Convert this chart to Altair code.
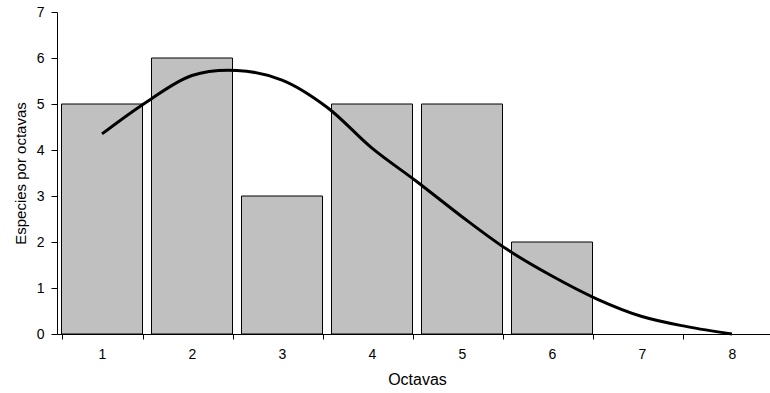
import altair as alt
import pandas as pd

categories = ["1", "2", "3", "4", "5", "6", "7", "8"]
species = [5, 6, 3, 5, 5, 2, 0, 0]

curve_x = [1, 1.5, 2, 2.5, 3, 3.5, 4, 4.5, 5, 5.5, 6, 6.5, 7, 7.5, 8]
curve_y = [4.35, 5.05, 5.62, 5.73, 5.52, 4.93, 4.04, 3.31, 2.55, 1.84, 1.26, 0.76, 0.38, 0.16, 0.0]

bars_df = pd.DataFrame({"octava": categories, "especies": species})
curve_df = pd.DataFrame({"x": curve_x, "especies": curve_y})

FONT = "Liberation Sans"
yscale = alt.Scale(domain=[0, 7], nice=False)
yaxis = alt.Axis(title="Especies por octavas", values=list(range(8)), grid=False, tickSize=6,
                 labelPadding=7, titlePadding=8, domainColor="black", tickColor="black",
                 labelColor="black", titleColor="black", labelFont=FONT, titleFont=FONT,
                 labelFontSize=14, titleFontSize=15, titleFontWeight="normal")

bars = alt.Chart(bars_df).transform_filter("datum.especies > 0").mark_bar(
    fill="#C0C0C0", stroke="black", strokeWidth=1
).encode(
    x=alt.X("octava:O", sort=categories,
            scale=alt.Scale(domain=categories, range=[0, 720], paddingInner=0.1, paddingOuter=0.05),
            axis=alt.Axis(title="Octavas", labelAngle=0, tickBand="extent", tickSize=5,
                          labelPadding=8, titlePadding=10, domainColor="black", tickColor="black",
                          labelColor="black", titleColor="black", labelFont=FONT, titleFont=FONT,
                          labelFontSize=14, titleFontSize=16, titleFontWeight="normal")),
    y=alt.Y("especies:Q", scale=yscale, axis=yaxis),
)

line = alt.Chart(curve_df).mark_line(color="black", strokeWidth=3, interpolate="catmull-rom").encode(
    x=alt.X("x:Q", scale=alt.Scale(domain=[0.5, 8.5], range=[0, 720], nice=False, zero=False), axis=None),
    y=alt.Y("especies:Q", scale=yscale, axis=yaxis),
)

chart = alt.layer(bars, line).resolve_scale(x="independent").properties(
    width=713, height=322,
    autosize=alt.AutoSizeParams(type="none"),
    padding={"left": 57, "top": 12, "right": 0, "bottom": 59},
).configure_view(stroke=None)

chart.save("out.html", embed_options={"renderer": "svg", "actions": False})
